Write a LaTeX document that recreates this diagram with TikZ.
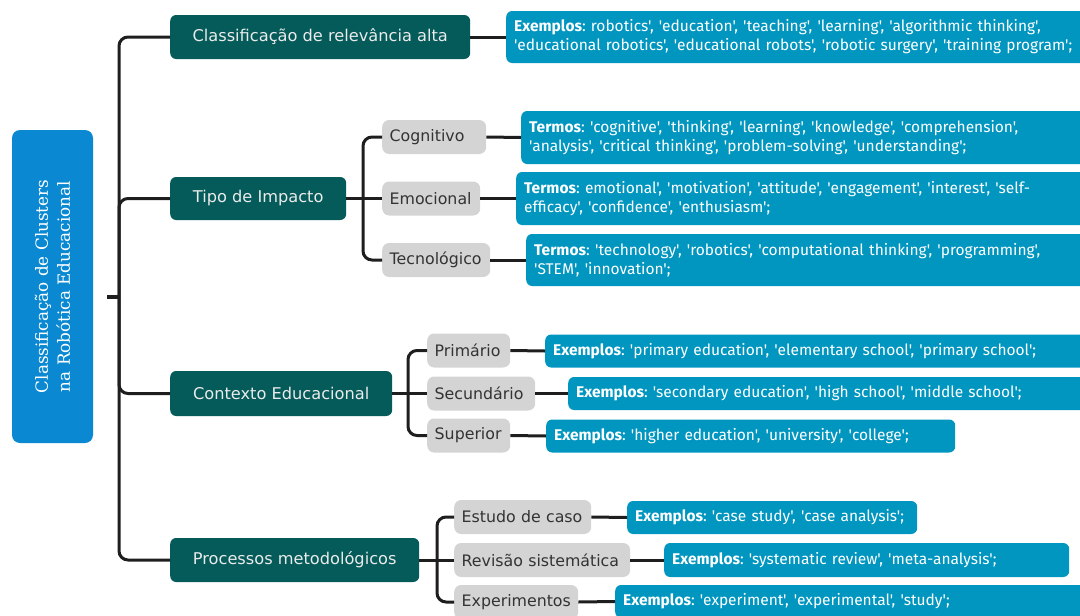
\documentclass[tikz,border=0pt]{standalone}
\usepackage{fontspec}
\setmainfont{DejaVu Sans}
\newfontfamily\rootfont{DejaVu Serif}
\newfontfamily\leaffont[FakeStretch=1.0]{Fira Sans}
\usetikzlibrary{calc}
\tikzset{>=latex, line width=1.0pt}
\definecolor{rootblue}{HTML}{0A88D2}
\definecolor{darkteal}{HTML}{045B59}
\definecolor{branchgray}{HTML}{D4D4D4}
\definecolor{leafblue}{HTML}{0196C0}
\definecolor{wire}{HTML}{1E1E1E}
\frenchspacing

\begin{document}
\begin{tikzpicture}[x=1pt,y=-1pt,
  link/.style={draw=wire,line width=3pt,rounded corners=9pt},
  rootbox/.style={fill=rootblue,text=white,rounded corners=8pt,rotate=90,align=center,inner sep=0pt,font=\rootfont\fontsize{16.8}{22}\selectfont},
  lvone/.style={fill=darkteal,text=white!92!black,rounded corners=6pt,anchor=west,inner sep=0pt,font=\fontsize{16.2}{19}\selectfont},
  lvtwo/.style={fill=branchgray,text=black!80,rounded corners=7pt,anchor=west,inner xsep=7.5pt,inner ysep=0pt,align=left,minimum height=34pt,font=\fontsize{15.8}{19}\selectfont},
  leaf/.style={fill=leafblue,text=white,rounded corners=6pt,anchor=west,align=left,inner xsep=8pt,inner ysep=0pt,font=\leaffont\fontsize{15.5}{19}\selectfont}]
  \useasboundingbox (0,0) rectangle (1080,616);
  \clip (0,0) rectangle (1080,616);

  % root
  \node[rootbox,minimum width=313pt,minimum height=81pt] (root) at (52.5,286.5)
    {Classificação de Clusters\\na Robótica Educacional};
  \coordinate (stub) at (107,297);
  \coordinate (trunk) at (119,297);
  \draw[draw=wire,line width=4pt] (stub) -- (trunk);

  % first level
  \node[lvone,minimum width=300pt,minimum height=44pt] (rel) at (170,37) {Classificação de relevância alta};
  \node[lvone,minimum width=176pt,minimum height=43pt] (tipo) at (170,198.5) {Tipo de Impacto};
  \node[lvone,minimum width=222pt,minimum height=45pt] (ctx) at (170,393.5) {Contexto Educacional};
  \node[lvone,minimum width=249pt,minimum height=44pt] (proc) at (170,560) {Processos metodológicos};
  \foreach \n in {rel,tipo,ctx,proc}
    \draw[link] (trunk) |- (\n.west);

  % relevancia alta
  \node[leaf,text width=600pt,minimum height=52pt] (relleaf) at (506,37)
    {\textbf{Exemplos}: robotics', 'education', 'teaching', 'learning', 'algorithmic thinking',\\'educational robotics', 'educational robots', 'robotic surgery', 'training program';};
  \draw[link] (rel.east) -- (relleaf.west);

  % tipo de impacto
  \node[lvtwo,text width=89pt] (cog) at (382,137) {Cognitivo};
  \node[lvtwo,text width=83pt] (emo) at (382,198.5) {Emocional};
  \node[lvtwo,text width=93pt] (tec) at (382,260) {Tecnológico};
  \coordinate (tipoj) at (363,198.5);
  \draw[link] (tipo.east) -- (emo.west);
  \draw[link] (tipoj) |- (cog.west);
  \draw[link] (tipoj) |- (tec.west);

  \node[leaf,text width=600pt,minimum height=53pt] (cogleaf) at (521,137.5)
    {\textbf{Termos}: 'cognitive', 'thinking', 'learning', 'knowledge', 'comprehension',\\'analysis', 'critical thinking', 'problem-solving', 'understanding';};
  \node[leaf,text width=600pt,minimum height=53pt] (emoleaf) at (516,198.5)
    {\textbf{Termos}: emotional', 'motivation', 'attitude', 'engagement', 'interest', 'self-\\efficacy', 'confidence', 'enthusiasm';};
  \node[leaf,text width=600pt,minimum height=52pt] (tecleaf) at (526,260)
    {\textbf{Termos}: 'technology', 'robotics', 'computational thinking', 'programming',\\'STEM', 'innovation';};
  \draw[link] (cog.east) -- (cogleaf.west);
  \draw[link] (emo.east) -- (emoleaf.west);
  \draw[link] (tec.east) -- (tecleaf.west);

  % contexto educacional
  \node[lvtwo,text width=68pt] (pri) at (427,350.5) {Primário};
  \node[lvtwo,text width=93pt] (sec) at (427,393.5) {Secundário};
  \node[lvtwo,text width=68pt] (sup) at (427,435.5) {Superior};
  \coordinate (ctxj) at (408,393.5);
  \draw[link] (ctx.east) -- (sec.west);
  \draw[link] (ctxj) |- (pri.west);
  \draw[link] (ctxj) |- (sup.west);

  \node[leaf,text width=600pt,minimum height=33pt] (prileaf) at (545,351)
    {\textbf{Exemplos}: 'primary education', 'elementary school', 'primary school';};
  \node[leaf,text width=600pt,minimum height=33pt] (secleaf) at (568,393.5)
    {\textbf{Exemplos}: 'secondary education', 'high school', 'middle school';};
  \node[leaf,text width=393pt,minimum height=33pt] (supleaf) at (546,436)
    {\textbf{Exemplos}: 'higher education', 'university', 'college';};
  \draw[link] (pri.east) -- (prileaf.west);
  \draw[link] (sec.east) -- (secleaf.west);
  \draw[link] (sup.east) -- (supleaf.west);

  % processos metodologicos
  \node[lvtwo,text width=122pt] (est) at (454,517) {Estudo de caso};
  \node[lvtwo,text width=161pt] (rev) at (454,560) {Revisão sistemática};
  \node[lvtwo,text width=109pt] (expe) at (454,602) {Experimentos};
  \coordinate (procj) at (437,560);
  \draw[link] (proc.east) -- (rev.west);
  \draw[link] (procj) |- (est.west);
  \draw[link] (procj) |- (expe.west);

  \node[leaf,text width=274pt,minimum height=33pt] (estleaf) at (627,517.5)
    {\textbf{Exemplos}: 'case study', 'case analysis';};
  \node[leaf,text width=389pt,minimum height=34pt] (revleaf) at (664,560)
    {\textbf{Exemplos}: 'systematic review', 'meta-analysis';};
  \node[leaf,text width=600pt,minimum height=33pt] (expleaf) at (615,601.5)
    {\textbf{Exemplos}: 'experiment', 'experimental', 'study';};
  \draw[link] (est.east) -- (estleaf.west);
  \draw[link] (rev.east) -- (revleaf.west);
  \draw[link] (expe.east) -- (expleaf.west);
\end{tikzpicture}
\end{document}
